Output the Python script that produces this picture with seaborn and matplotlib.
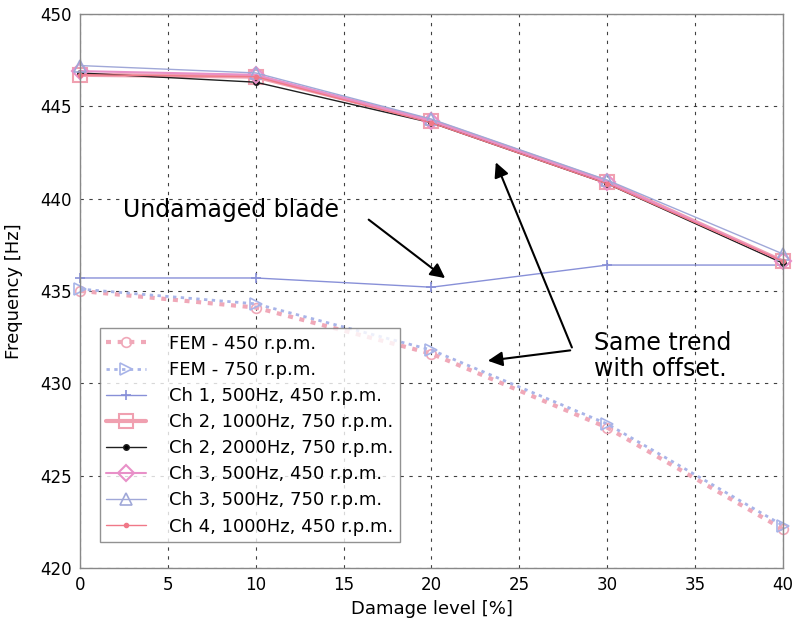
import matplotlib
matplotlib.use("Agg")
import matplotlib.pyplot as plt
import seaborn as sns
import pandas as pd

damage = [0, 10, 20, 30, 40]
fem_450 = [435.0, 434.1, 431.6, 427.6, 422.1]
fem_750 = [435.1, 434.3, 431.8, 427.8, 422.3]
ch1_500_450 = [435.7, 435.7, 435.2, 436.4, 436.4]
ch2_1000_750 = [446.7, 446.6, 444.2, 440.9, 436.6]
ch2_2000_750 = [446.8, 446.3, 444.1, 440.8, 436.5]
ch3_500_450 = [446.9, 446.7, 444.2, 440.9, 436.6]
ch3_500_750 = [447.2, 446.8, 444.3, 441.0, 437.0]
ch4_1000_450 = [446.7, 446.6, 444.1, 440.8, 436.6]

labels = ["FEM - 450 r.p.m.", "FEM - 750 r.p.m.", "Ch 1, 500Hz, 450 r.p.m.",
          "Ch 2, 1000Hz, 750 r.p.m.", "Ch 2, 2000Hz, 750 r.p.m.",
          "Ch 3, 500Hz, 450 r.p.m.", "Ch 3, 500Hz, 750 r.p.m.",
          "Ch 4, 1000Hz, 450 r.p.m."]
values = [fem_450, fem_750, ch1_500_450, ch2_1000_750, ch2_2000_750,
          ch3_500_450, ch3_500_750, ch4_1000_450]

styles = [
    dict(color="#f0a8b8", linestyle=(0, (1.2, 1.6)), lw=3.0, marker="o", ms=7, mfc="none", mew=1.2),
    dict(color="#a8b4e8", linestyle=(0, (1.2, 1.6)), lw=2.0, marker=">", ms=8, mfc="none", mew=1.2),
    dict(color="#8890d8", linestyle="-", lw=1.0, marker="+", ms=7, mfc="none", mew=1.2),
    dict(color="#f0a0b0", linestyle="-", lw=3.0, marker="s", ms=10, mfc="none", mew=1.5),
    dict(color="#202020", linestyle="-", lw=1.0, marker="o", ms=4, mfc="#000000", mew=1),
    dict(color="#e890c8", linestyle="-", lw=1.5, marker="D", ms=8, mfc="none", mew=1.5),
    dict(color="#a0a8d8", linestyle="-", lw=1.0, marker="^", ms=9, mfc="none", mew=1.2),
    dict(color="#f07888", linestyle="-", lw=1.0, marker=".", ms=6, mfc="#f07888", mew=1),
]

sns.set_style("white")
plt.rcParams["font.family"] = ["DejaVu Sans"]
plt.rcParams["text.color"] = "black"
plt.rcParams["axes.labelcolor"] = "black"
plt.rcParams["xtick.color"] = "black"
plt.rcParams["ytick.color"] = "black"

fig = plt.figure(figsize=(7.97, 6.29), dpi=100)
ax = fig.add_axes([0.1004, 0.097, 0.882, 0.881])

for lab, vals, st in zip(labels, values, styles):
    df = pd.DataFrame({"Damage": damage, "Freq": vals})
    sns.lineplot(data=df, x="Damage", y="Freq", ax=ax, label=lab,
                 color=st["color"], linestyle=st["linestyle"], linewidth=st["lw"],
                 marker=st["marker"], markersize=st["ms"], markerfacecolor=st["mfc"],
                 markeredgecolor=st["color"], markeredgewidth=st["mew"], clip_on=False)

ax.set_xlim(0, 40)
ax.set_ylim(420, 450)
ax.set_xticks(range(0, 41, 5))
ax.set_yticks(range(420, 451, 5))
ax.tick_params(labelsize=12, length=0, pad=6)
ax.grid(True, color="black", linestyle=(0, (3, 5)), linewidth=0.8, alpha=0.75)
for sp in ax.spines.values():
    sp.set_color("#888888")
    sp.set_linewidth(1.0)
ax.set_xlabel("Damage level [%]", fontsize=13, labelpad=4)
ax.set_ylabel("Frequency [Hz]", fontsize=13, labelpad=12)

leg = ax.legend(loc="lower left", bbox_to_anchor=(0.028, 0.047), borderaxespad=0,
                fontsize=13, frameon=True, fancybox=False, edgecolor="#777777",
                labelspacing=0.45, handlelength=2.2, handletextpad=1.3, borderpad=0.35)
leg.get_frame().set_linewidth(1.0)

ax.text(2.45, 439.4, "Undamaged blade", fontsize=17, va="center", ha="left")
ax.annotate("", xy=(20.9, 435.6), xytext=(16.3, 438.95),
            arrowprops=dict(arrowstyle="-|>", color="black", lw=1.5, mutation_scale=22))
ax.text(29.25, 431.5, "Same trend\nwith offset.", fontsize=17, va="center", ha="left",
        linespacing=1.1)
ax.annotate("", xy=(23.6, 442.1), xytext=(28.05, 431.8),
            arrowprops=dict(arrowstyle="-|>", color="black", lw=1.5, mutation_scale=22))
ax.annotate("", xy=(23.05, 431.2), xytext=(28.05, 431.8),
            arrowprops=dict(arrowstyle="-|>", color="black", lw=1.5, mutation_scale=22))

fig.savefig("out.png", dpi=100)
